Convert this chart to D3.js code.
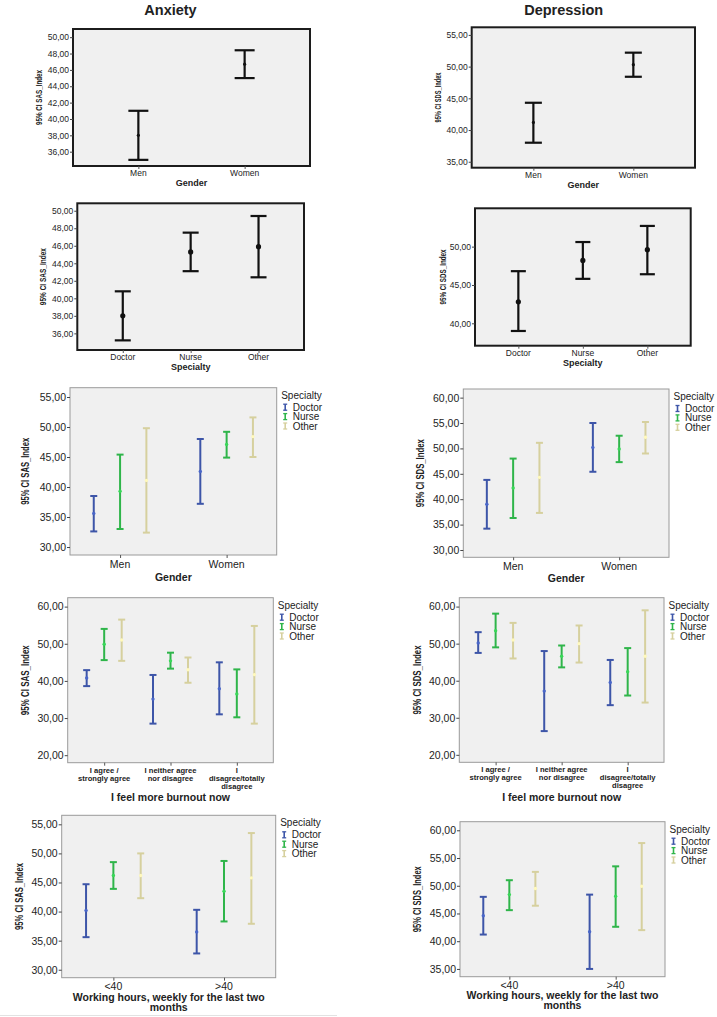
<!DOCTYPE html>
<html>
<head>
<meta charset="utf-8">
<script src="https://cdn.jsdelivr.net/npm/d3@7"></script>
<style>
  body { margin: 0; background: #fff; }
  svg { display: block; }
</style>
</head>
<body>
<svg id="chart" width="717" height="1017"></svg>
<script>
// categories
var genders = ["Men", "Women"];
var specialties = ["Doctor", "Nurse", "Other"];
var burnoutLevels = ["I agree /\nstrongly agree", "I neither agree\nnor disagree", "I\ndisagree/totally\ndisagree"];
var hourBands = ["<40", ">40"];

// simple error bars: mean, lower and upper 95% CI
var sasGenderMean = [38.0, 46.7];
var sasGenderLow = [35.0, 45.0];
var sasGenderHigh = [41.0, 48.4];

var sdsGenderMean = [41.2, 50.3];
var sdsGenderLow = [38.0, 48.4];
var sdsGenderHigh = [44.3, 52.2];

var sasSpecMean = [38.0, 45.3, 45.9];
var sasSpecLow = [35.2, 43.1, 42.4];
var sasSpecHigh = [40.8, 47.5, 49.4];

var sdsSpecMean = [42.8, 48.2, 49.6];
var sdsSpecLow = [39.0, 45.8, 46.4];
var sdsSpecHigh = [46.8, 50.6, 52.7];

// clustered error bars: rows = x category, columns = Doctor, Nurse, Other
var sasGenderSpecMean = [[35.6, 39.3, 41.1], [42.6, 47.1, 48.4]];
var sasGenderSpecLow = [[32.6, 33.0, 32.4], [37.2, 44.9, 45.0]];
var sasGenderSpecHigh = [[38.5, 45.4, 49.8], [48.0, 49.2, 51.6]];

var sdsGenderSpecMean = [[39.0, 42.2, 44.3], [50.2, 49.9, 52.2]];
var sdsGenderSpecLow = [[34.2, 36.3, 37.3], [45.4, 47.3, 49.0]];
var sdsGenderSpecHigh = [[43.8, 48.0, 51.1], [55.0, 52.5, 55.2]];

var sasBurnoutMean = [[40.8, 49.9, 51.0], [35.1, 45.4, 43.0], [37.9, 36.5, 41.7]];
var sasBurnoutLow = [[38.6, 45.6, 45.4], [28.5, 43.3, 39.5], [31.0, 30.2, 28.5]];
var sasBurnoutHigh = [[42.9, 54.0, 56.5], [41.6, 47.6, 46.3], [45.0, 43.1, 54.8]];

var sdsBurnoutMean = [[50.2, 53.5, 51.0], [37.2, 46.6, 50.0], [39.5, 42.4, 46.6]];
var sdsBurnoutLow = [[47.5, 49.0, 46.0], [26.4, 43.6, 44.9], [33.4, 36.0, 34.1]];
var sdsBurnoutHigh = [[53.1, 58.1, 55.6], [48.0, 49.5, 54.9], [45.6, 48.8, 59.0]];

var sasHoursMean = [[40.2, 46.2, 46.2], [36.5, 43.5, 45.8]];
var sasHoursLow = [[35.6, 43.9, 42.3], [32.8, 38.3, 37.9]];
var sasHoursHigh = [[44.7, 48.5, 50.0], [40.3, 48.7, 53.5]];

var sdsHoursMean = [[44.6, 48.4, 49.5], [41.7, 48.1, 49.9]];
var sdsHoursLow = [[41.2, 45.6, 46.4], [35.0, 42.6, 42.0]];
var sdsHoursHigh = [[48.0, 51.0, 52.5], [48.4, 53.5, 57.7]];

// tick labels
var sasGenderTicks = [36, 38, 40, 42, 44, 46, 48, 50];
var sdsGenderTicks = [35, 40, 45, 50, 55];
var sasSpecTicks = [36, 38, 40, 42, 44, 46, 48, 50];
var sdsSpecTicks = [40, 45, 50];
var sasGenderSpecTicks = [30, 35, 40, 45, 50, 55];
var sdsGenderSpecTicks = [30, 35, 40, 45, 50, 55, 60];
var burnoutTicks = [20, 30, 40, 50, 60];
var sasHoursTicks = [30, 35, 40, 45, 50, 55];
var sdsHoursTicks = [35, 40, 45, 50, 55, 60];

var FONT = "'Liberation Sans', Arial, sans-serif";
var specColors = ["#3d55a8", "#2fb54a", "#d6d09e"];
var fmt = function(d) { return d3.format(".2f")(d).replace(".", ","); };

var svg = d3.select("#chart").attr("font-family", FONT);

var panels = [
    {cats: genders, mean: sasGenderMean, low: sasGenderLow, high: sasGenderHigh, ticks: sasGenderTicks,
     domain: [34.25, 51.0], box: [73, 29, 310, 166], pad: 0.615, heavy: true, cap: 20, dot: 1.6,
     xTitle: ["Gender"], yTitle: "95% CI SAS_Index", yLen: 55, yDx: 34},
    {cats: genders, mean: sdsGenderMean, low: sdsGenderLow, high: sdsGenderHigh, ticks: sdsGenderTicks,
     domain: [34.06, 56.2], box: [471.7, 27.3, 695, 167.7], pad: 0.617, heavy: true, cap: 17, dot: 1.6,
     xTitle: ["Gender"], yTitle: "95% CI SDS_Index", yLen: 50, yDx: 33.4},
    {cats: specialties, mean: sasSpecMean, low: sasSpecLow, high: sasSpecHigh, ticks: sasSpecTicks,
     domain: [34.1, 50.85], box: [77.3, 203.3, 304, 350], pad: 0.67, heavy: true, cap: 16, dot: 2.6,
     xTitle: ["Specialty"], yTitle: "95% CI SAS_Index", yLen: 57, yDx: 34},
    {cats: specialties, mean: sdsSpecMean, low: sdsSpecLow, high: sdsSpecHigh, ticks: sdsSpecTicks,
     domain: [37.08, 55.0], box: [475, 208.3, 690.7, 345.7], pad: 0.672, heavy: true, cap: 15, dot: 2.6,
     xTitle: ["Specialty"], yTitle: "95% CI SDS_Index", yLen: 55, yDx: 31.7},
    {cats: genders, grouped: true, mean: sasGenderSpecMean, low: sasGenderSpecLow, high: sasGenderSpecHigh,
     ticks: sasGenderSpecTicks, domain: [28.67, 56.55], box: [70, 387.7, 276.7, 555], pad: 0.47, cluster: 0.247,
     xTitle: ["Gender"], titleDy: 22, yTitle: "95% CI SAS_Index", yLen: 67, yDx: 45},
    {cats: genders, grouped: true, mean: sdsGenderSpecMean, low: sdsGenderSpecLow, high: sdsGenderSpecHigh,
     ticks: sdsGenderSpecTicks, domain: [28.56, 61.7], box: [463.3, 389, 669, 557.3], pad: 0.47, cluster: 0.248,
     xTitle: ["Gender"], titleDy: 20.4, yTitle: "95% CI SDS_Index", yLen: 68, yDx: 42.6},
    {cats: burnoutLevels, grouped: true, mean: sasBurnoutMean, low: sasBurnoutLow, high: sasBurnoutHigh,
     ticks: burnoutTicks, domain: [17.98, 62.4], box: [67.7, 597.7, 273.3, 762.7], pad: 0.55, cluster: 0.264,
     small: true, xTitle: ["I feel more burnout now"], titleDy: 34.5, yTitle: "95% CI SAS_Index", yLen: 70, yDx: 42.7},
    {cats: burnoutLevels, grouped: true, mean: sdsBurnoutMean, low: sdsBurnoutLow, high: sdsBurnoutHigh,
     ticks: burnoutTicks, domain: [17.98, 62.4], box: [459.3, 597.7, 664, 762.3], pad: 0.55, cluster: 0.264,
     small: true, xTitle: ["I feel more burnout now"], titleDy: 34.2, yTitle: "95% CI SDS_Index", yLen: 69, yDx: 42},
    {cats: hourBands, grouped: true, mean: sasHoursMean, low: sasHoursLow, high: sasHoursHigh,
     ticks: sasHoursTicks, domain: [28.63, 56.55], box: [61.7, 815.3, 275.7, 977.7], pad: 0.467, cluster: 0.247,
     xTitle: ["Working hours, weekly for the last two", "months"], titleDy: 19.6, yTitle: "95% CI SAS_Index", yLen: 67, yDx: 42.7},
    {cats: hourBands, grouped: true, mean: sdsHoursMean, low: sdsHoursLow, high: sdsHoursHigh,
     ticks: sdsHoursTicks, domain: [33.6, 61.55], box: [460, 821.7, 665, 976.7], pad: 0.464, cluster: 0.245,
     xTitle: ["Working hours, weekly for the last two", "months"], titleDy: 18.6, yTitle: "95% CI SDS_Index", yLen: 66, yDx: 42.7}
];

function drawPanel(p) {
    var x0 = p.box[0], y0 = p.box[1], x1 = p.box[2], y1 = p.box[3];
    var g = svg.append("g");

    var y = d3.scaleLinear().domain(p.domain).range([y1, y0]);
    var x = d3.scalePoint().domain(p.cats).range([x0, x1]).padding(p.pad);

    var tickFont = p.heavy ? 8.5 : 10.5;

    g.append("rect")
        .attr("x", x0).attr("y", y0)
        .attr("width", x1 - x0).attr("height", y1 - y0)
        .attr("fill", "#f0f0f0")
        .attr("stroke", p.heavy ? "#1c1c1c" : "#9a9a9a")
        .attr("stroke-width", p.heavy ? 2 : 1);

    var yAxis = g.append("g")
        .attr("transform", "translate(" + x0 + ",0)")
        .call(d3.axisLeft(y).tickValues(p.ticks).tickFormat(fmt).tickSize(3).tickPadding(1));
    yAxis.select(".domain").remove();
    yAxis.attr("font-family", FONT).attr("font-size", tickFont);
    yAxis.selectAll("line").attr("stroke", "#444");
    yAxis.selectAll("text").attr("fill", "#1e1e1e");

    var xAxis = g.append("g")
        .attr("transform", "translate(0," + y1 + ")")
        .call(d3.axisBottom(x).tickSize(3).tickFormat(""));
    xAxis.select(".domain").remove();
    xAxis.selectAll("line").attr("stroke", "#555");

    // category labels (may be multi-line)
    var labFont = p.heavy ? 8.5 : (p.small ? 7.6 : 10.5);
    var labDy = p.heavy ? 7 : (p.small ? 7.6 : 8.5);
    var labLine = 8;
    p.cats.forEach(function(c) {
        var t = g.append("text")
            .attr("text-anchor", "middle")
            .attr("font-size", labFont)
            .attr("font-weight", p.small ? "bold" : "normal")
            .attr("fill", "#222");
        c.split("\n").forEach(function(line, i) {
            t.append("tspan")
                .attr("x", x(c))
                .attr("y", y1 + labDy + i * labLine)
                .attr("dominant-baseline", "central")
                .text(line);
        });
    });

    // axis titles
    var titleDy = p.heavy ? 16.8 : p.titleDy;
    p.xTitle.forEach(function(line, i) {
        g.append("text")
            .attr("x", (x0 + x1) / 2)
            .attr("y", y1 + titleDy + i * 10)
            .attr("dominant-baseline", "central")
            .attr("text-anchor", "middle")
            .attr("font-size", p.heavy ? 9 : 10.5)
            .attr("font-weight", "bold")
            .attr("fill", "#222")
            .text(line);
    });

    g.append("text")
        .attr("transform", "translate(" + (x0 - p.yDx) + "," + ((y0 + y1) / 2) + ") rotate(-90)")
        .attr("text-anchor", "middle")
        .attr("dominant-baseline", "central")
        .attr("font-size", p.heavy ? 8.5 : 10)
        .attr("font-weight", "bold")
        .attr("fill", "#222")
        .attr("textLength", p.yLen)
        .attr("lengthAdjust", "spacingAndGlyphs")
        .text(p.yTitle);

    // error bar rows
    var rows;
    if (p.grouped) {
        var off = x.step() * p.cluster;
        var xs = d3.scalePoint().domain(specialties).range([-off, off]);
        rows = [];
        p.cats.forEach(function(c, i) {
            specialties.forEach(function(s, j) {
                rows.push({cx: x(c) + xs(s), mean: p.mean[i][j], low: p.low[i][j], high: p.high[i][j],
                           color: specColors[j], dotColor: d3.color(specColors[j]).brighter(0.5).formatHex()});
            });
        });
    } else {
        rows = p.cats.map(function(c, i) {
            return {cx: x(c), mean: p.mean[i], low: p.low[i], high: p.high[i], color: "#111", dotColor: "#111"};
        });
    }

    var cap = p.heavy ? p.cap : 7;
    var sw = p.heavy ? 2.2 : 2;
    var dotR = p.heavy ? p.dot : 1.7;

    var bars = g.append("g").selectAll("g").data(rows).enter().append("g");
    bars.append("line")
        .attr("x1", function(d) { return d.cx; }).attr("x2", function(d) { return d.cx; })
        .attr("y1", function(d) { return y(d.low); }).attr("y2", function(d) { return y(d.high); })
        .attr("stroke", function(d) { return d.color; }).attr("stroke-width", sw);
    ["low", "high"].forEach(function(k) {
        bars.append("line")
            .attr("x1", function(d) { return d.cx - cap / 2; }).attr("x2", function(d) { return d.cx + cap / 2; })
            .attr("y1", function(d) { return y(d[k]); }).attr("y2", function(d) { return y(d[k]); })
            .attr("stroke", function(d) { return d.color; }).attr("stroke-width", sw);
    });
    bars.append("circle")
        .attr("cx", function(d) { return d.cx; })
        .attr("cy", function(d) { return y(d.mean); })
        .attr("r", dotR)
        .attr("fill", function(d) { return d.dotColor; });

    // legend
    if (p.grouped) {
        var lx = x1 + 4.5, ly = y0 + 7.5;
        var lg = g.append("g").attr("font-size", 10).attr("fill", "#222");
        lg.append("text").attr("x", lx).attr("y", ly)
            .attr("dominant-baseline", "central").text("Specialty");
        specialties.forEach(function(s, j) {
            var iy = y0 + 19.5 + j * 9.4;
            var ix = x1 + 8.5;
            var col = specColors[j];
            lg.append("line").attr("x1", ix).attr("x2", ix).attr("y1", iy - 3).attr("y2", iy + 3)
                .attr("stroke", col).attr("stroke-width", 1.6);
            lg.append("line").attr("x1", ix - 2).attr("x2", ix + 2).attr("y1", iy - 3).attr("y2", iy - 3)
                .attr("stroke", col).attr("stroke-width", 1.3);
            lg.append("line").attr("x1", ix - 2).attr("x2", ix + 2).attr("y1", iy + 3).attr("y2", iy + 3)
                .attr("stroke", col).attr("stroke-width", 1.3);
            lg.append("text").attr("x", x1 + 16).attr("y", iy)
                .attr("dominant-baseline", "central").text(s);
        });
    }
}

panels.forEach(drawPanel);

// column headings
svg.append("text").attr("x", 170.5).attr("y", 9.5)
    .attr("text-anchor", "middle").attr("dominant-baseline", "central")
    .attr("font-size", 14.5).attr("font-weight", "bold").attr("fill", "#222")
    .text("Anxiety");
svg.append("text").attr("x", 563.7).attr("y", 9.5)
    .attr("text-anchor", "middle").attr("dominant-baseline", "central")
    .attr("font-size", 14.5).attr("font-weight", "bold").attr("fill", "#222")
    .text("Depression");

svg.append("line").attr("x1", 0).attr("x2", 337).attr("y1", 1015.5).attr("y2", 1015.5)
    .attr("stroke", "#e2e2e2");
</script>
</body>
</html>
